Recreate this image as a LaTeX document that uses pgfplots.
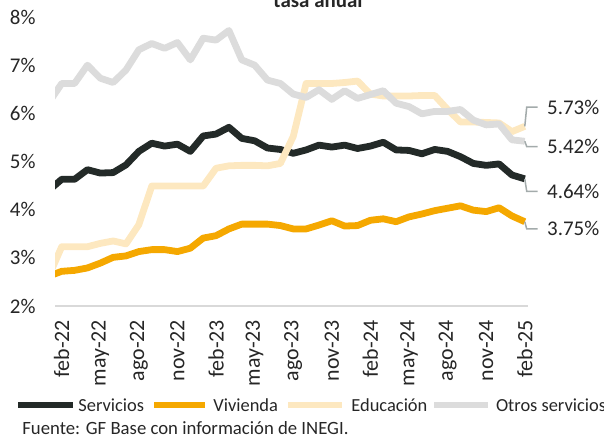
\documentclass[border=0pt]{standalone}
\usepackage{fontspec}
\setmainfont{Carlito}
\usepackage{pgfplots}
\usepackage{pgfplotstable}
\pgfplotsset{compat=1.18}

\definecolor{servc}{HTML}{232A28}
\definecolor{vivc}{HTML}{F5A800}
\definecolor{educ}{HTML}{FDE8C0}
\definecolor{otrc}{HTML}{DCDCDC}
\definecolor{gridc}{HTML}{D9D9D9}
\definecolor{leadc}{HTML}{A3ABAB}
\definecolor{txtc}{HTML}{262626}

% m: months from feb-22 (-1 = jan-22, only partly shown)
\pgfplotstableread{
m  serv viv  edu  otros
-1 4.40 2.62 2.62 6.22
0  4.63 2.72 3.23 6.62
1  4.63 2.74 3.23 6.62
2  4.83 2.79 3.23 7.00
3  4.76 2.89 3.30 6.73
4  4.77 3.01 3.35 6.64
5  4.93 3.04 3.29 6.90
6  5.21 3.13 3.69 7.32
7  5.38 3.17 4.49 7.45
8  5.32 3.17 4.49 7.35
9  5.36 3.13 4.49 7.47
10 5.21 3.20 4.49 7.11
11 5.53 3.41 4.49 7.56
12 5.57 3.46 4.86 7.52
13 5.71 3.60 4.91 7.72
14 5.48 3.70 4.92 7.11
15 5.43 3.70 4.92 7.00
16 5.28 3.70 4.91 6.69
17 5.25 3.67 4.96 6.62
18 5.17 3.60 5.52 6.40
19 5.24 3.60 6.62 6.33
20 5.34 3.68 6.62 6.49
21 5.30 3.77 6.62 6.29
22 5.34 3.66 6.64 6.47
23 5.27 3.67 6.67 6.31
24 5.32 3.78 6.40 6.39
25 5.40 3.81 6.36 6.47
26 5.24 3.75 6.36 6.21
27 5.23 3.85 6.36 6.14
28 5.16 3.91 6.37 5.99
29 5.25 3.98 6.37 6.04
30 5.21 4.03 6.08 6.04
31 5.10 4.08 5.82 6.08
32 4.96 3.99 5.82 5.86
33 4.92 3.96 5.81 5.76
34 4.95 4.04 5.80 5.78
35 4.72 3.87 5.62 5.45
36 4.64 3.75 5.73 5.42
}\datos

\begin{document}
\begin{tikzpicture}[x=1bp,y=1bp]
\begin{axis}[
  at={(27.5bp,66bp)}, anchor=south west,
  scale only axis, width=236.5bp, height=144.5bp,
  xmin=-0.52, xmax=36.25, ymin=2, ymax=8,
  axis x line*=bottom, axis y line*=left,
  axis line style={-},
  y axis line style={draw=none},
  x axis line style={draw=gridc, line width=1bp},
  major tick length=0pt,
  xtick={0,3,...,36},
  xticklabels={feb-22,may-22,ago-22,nov-22,feb-23,may-23,ago-23,nov-23,feb-24,may-24,ago-24,nov-24,feb-25},
  ytick={2,3,4,5,6,7,8},
  yticklabels={2\%,3\%,4\%,5\%,6\%,7\%,8\%},
  tick label style={font=\fontsize{10.5}{12}\selectfont, text=txtc},
  xticklabel style={yshift=-3.5bp, rotate=90, anchor=east, font=\fontsize{11}{12}\selectfont},
  yticklabel style={xshift=-6.25bp},
  clip mode=individual,
  every axis plot/.append style={line width=3.4bp, line join=round},
]
\addplot[servc] table[x=m, y=serv] {\datos};
\addplot[vivc] table[x=m, y=viv] {\datos};
\addplot[educ] table[x=m, y=edu] {\datos};
\addplot[otrc] table[x=m, y=otros] {\datos};

% end-value callouts
\draw[leadc, line width=0.75bp] (axis cs:36,5.73) -- (axis cs:36.15,6.13) -- (axis cs:37,6.13);
\draw[leadc, line width=0.75bp] (axis cs:36,5.42) -- (axis cs:36.15,5.31) -- (axis cs:37,5.31);
\draw[leadc, line width=0.75bp] (axis cs:36,4.64) -- (axis cs:36.15,4.38) -- (axis cs:37,4.38);
\draw[leadc, line width=0.75bp] (axis cs:36,3.75) -- (axis cs:36.15,3.60) -- (axis cs:37,3.60);
\begin{scope}[every node/.style={anchor=west, inner xsep=0pt, text=txtc, font=\fontsize{10.5}{12}\selectfont}]
\node at (axis cs:37.71,6.13) {5.73\%};
\node at (axis cs:37.71,5.31) {5.42\%};
\node at (axis cs:37.71,4.38) {4.64\%};
\node at (axis cs:37.71,3.60) {3.75\%};
\end{scope}
\end{axis}

% legend, laid out as in the source
\begin{scope}[line width=3.4bp, every node/.style={anchor=west, inner xsep=0pt, text=txtc, font=\fontsize{9.25}{11}\selectfont}]
\draw[servc] (9,16.5) -- (36.5,16.5);   \node at (37.5,16.5) {Servicios};
\draw[vivc]  (77,16.5) -- (102.5,16.5); \node at (105,16.5) {Vivienda};
\draw[educ]  (144,16.5) -- (171,16.5);  \node at (174,16.5) {Educación};
\draw[otrc]  (217,16.5) -- (244,16.5);  \node at (246.3,16.5) {Otros servicios};
\end{scope}

\node[anchor=base, text=txtc, font=\bfseries\fontsize{10.5}{12}\selectfont] at (159,215.5) {tasa anual};
\node[anchor=west, inner xsep=0pt, text=txtc, font=\fontsize{9.4}{11}\selectfont] at (11,5) {Fuente: GF Base con información de INEGI.};

\pgfresetboundingbox
\path[use as bounding box] (0,0) rectangle (302,219);
\end{tikzpicture}
\end{document}
